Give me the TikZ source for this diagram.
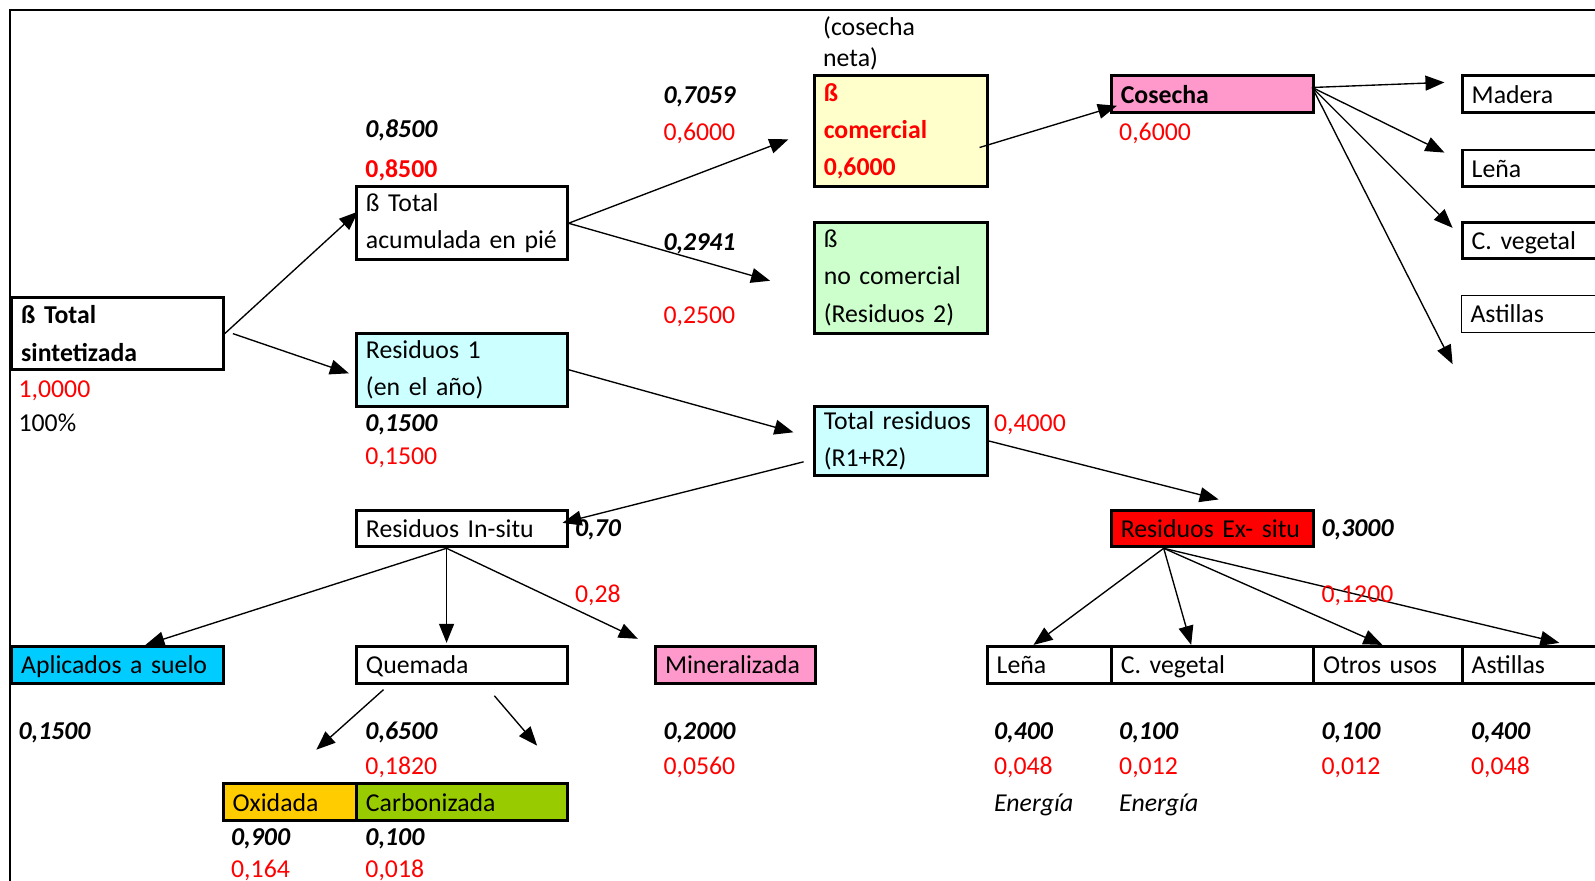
\documentclass[tikz,border=0pt]{standalone}
\usepackage{fontspec}
\setmainfont[WordSpace=0.85]{Carlito}
\usetikzlibrary{arrows.meta}

\definecolor{amarillo}{HTML}{FFFFCC}
\definecolor{verdeclaro}{HTML}{CCFFCC}
\definecolor{celeste}{HTML}{CCFFFF}
\definecolor{rosa}{HTML}{FF99CC}
\definecolor{cian}{HTML}{00CCFF}
\definecolor{naranja}{HTML}{FFCC00}
\definecolor{oliva}{HTML}{99CC00}

\newcommand{\tam}{\fontsize{19}{27.5}\selectfont}

\tikzset{
  cell/.style={draw, line width=2.2pt, rectangle, anchor=north west, inner xsep=7pt, inner ysep=0pt, align=left, font=\tam},
  fila/.style={cell, minimum height=27pt, text height=13.5pt, text depth=0pt},
  lbl/.style={anchor=west, inner sep=0pt, text height=12.5pt, text depth=0pt, font=\tam},
  num/.style={lbl, font=\tam\bfseries\itshape},
  rojo/.style={lbl, text=red},
  flecha/.style={-{Triangle[length=14pt,width=11pt]}, line width=1pt},
}

\begin{document}
\begin{tikzpicture}[x=0.75pt,y=0.75pt,yscale=-1,xscale=1]
    \useasboundingbox (0,0) rectangle (1568,866);

    % marco
    \draw[line width=1.5pt] (10,866) -- (10,10) -- (1568,10);

    % cajas
    \node[cell, text width=142pt, minimum height=53.25pt] (sint) at (10,291) {\textbf{ß Total}\\\textbf{sintetizada}};
    \node[cell, text width=141.25pt, minimum height=54pt] (acum) at (349,182) {ß Total\\acumulada en pié};
    \node[cell, fill=celeste, text width=141.25pt, minimum height=54pt] (res1) at (349,326) {Residuos 1\\(en el año)};
    \node[cell, fill=amarillo, text width=113.5pt, minimum height=81.75pt, text=red, font=\tam\bfseries] (comer) at (799,73) {ß\\comercial\\0,6000};
    \node[cell, fill=verdeclaro, text width=113.5pt, minimum height=81.75pt] (nocom) at (799,217) {ß\\no comercial\\(Residuos 2)};
    \node[fila, fill=rosa, text width=135.25pt, font=\tam\bfseries] (cosecha) at (1091,73) {Cosecha};
    \node[fila, text width=109pt] (madera) at (1436,73) {Madera};
    \node[fila, text width=109pt] (lenaA) at (1436,146) {Leña};
    \node[fila, text width=109pt] (cvegA) at (1436,217) {C. vegetal};
    \node[fila, line width=0.5pt, text width=109pt] (astA) at (1436,290) {Astillas};
    \node[cell, fill=celeste, text width=113.5pt, minimum height=51pt] (totres) at (799,398) {Total residuos\\(R1+R2)};
    \node[fila, text width=141.25pt] (insitu) at (349,500) {Residuos In-situ};
    \node[fila, fill=red, text width=135.25pt] (exsitu) at (1091,500) {Residuos Ex- situ};
    \node[fila, fill=cian, text width=142pt] (aplic) at (10,634) {Aplicados a suelo};
    \node[fila, text width=141.25pt] (quem) at (349,634) {Quemada};
    \node[fila, fill=rosa, text width=103.75pt] (miner) at (643,634) {Mineralizada};
    \node[fila, fill=naranja, text width=84.25pt] (oxid) at (218,769) {Oxidada};
    \node[fila, fill=oliva, text width=141.25pt] (carb) at (349,769) {Carbonizada};
    \node[fila, text width=77.5pt] (lenaB) at (969,634) {Leña};
    \node[fila, text width=135.25pt] (cvegB) at (1091,634) {C. vegetal};
    \node[fila, text width=95.5pt] (otros) at (1290,634) {Otros usos};
    \node[fila, text width=109pt] (astB) at (1436,634) {Astillas};

    % extremos libres de las flechas
    \coordinate (pAcum) at (352,208);
    \coordinate (sRes) at (229,328);
    \coordinate (pRes) at (343,367);
    \coordinate (pComer) at (775,137);
    \coordinate (pNocom) at (757,276);
    \coordinate (sComer) at (963,145);
    \coordinate (pCosecha) at (1098,104);
    \coordinate (sCosecha) at (1290,86);
    \coordinate (pMadera) at (1420,81);
    \coordinate (pLena) at (1420,150);
    \coordinate (pCveg) at (1428,224);
    \coordinate (pAst) at (1428,358);
    \coordinate (pTot) at (780,425);
    \coordinate (sTot) at (790,454);
    \coordinate (pIn) at (553,514);
    \coordinate (pEx) at (1198,491);
    \coordinate (sIn) at (439,539);
    \coordinate (pAplic) at (143,634);
    \coordinate (pQuem) at (439,632);
    \coordinate (pMiner) at (627,628);
    \coordinate (sQ1) at (377,678);
    \coordinate (pQ1) at (311,737);
    \coordinate (sQ2) at (486,684);
    \coordinate (pQ2) at (528,733);
    \coordinate (sEx) at (1144,539);
    \coordinate (pLenaB) at (1016,634);
    \coordinate (pCvegB) at (1171,634);
    \coordinate (pOtros) at (1359,634);
    \coordinate (pAstB) at (1533,632);

    % flechas
    \draw[flecha] (sint.east) -- (pAcum);
    \draw[flecha] (sRes) -- (pRes);
    \draw[flecha] (acum.east) -- (pComer);
    \draw[flecha] (acum.east) -- (pNocom);
    \draw[flecha] (sComer) -- (pCosecha);
    \draw[flecha] (sCosecha) -- (pMadera);
    \draw[flecha] (sCosecha) -- (pLena);
    \draw[flecha] (sCosecha) -- (pCveg);
    \draw[flecha] (sCosecha) -- (pAst);
    \draw[flecha] (res1.east) -- (pTot);
    \draw[flecha] (sTot) -- (pIn);
    \draw[flecha] (totres.east) -- (pEx);
    \draw[flecha] (sIn) -- (pAplic);
    \draw[flecha] (sIn) -- (pQuem);
    \draw[flecha] (sIn) -- (pMiner);
    \draw[flecha] (sQ1) -- (pQ1);
    \draw[flecha] (sQ2) -- (pQ2);
    \draw[flecha] (sEx) -- (pLenaB);
    \draw[flecha] (sEx) -- (pCvegB);
    \draw[flecha] (sEx) -- (pOtros);
    \draw[flecha] (sEx) -- (pAstB);

    % textos
    \node[lbl, align=left, font=\fontsize{19}{23}\selectfont, text height=, text depth=] (neta) at (809,42.5) {(cosecha\\neta)};
    \node[num] (v1) at (359,127) {0,8500};
    \node[rojo, font=\tam\bfseries] (r1) at (359,166) {0,8500};
    \node[num] (v2) at (652,93) {0,7059};
    \node[rojo] (r2) at (652,130) {0,6000};
    \node[num] (v3) at (652,238) {0,2941};
    \node[rojo] (r3) at (652,310) {0,2500};
    \node[rojo] (r4) at (1100,130) {0,6000};
    \node[rojo] (r5) at (18,382) {1,0000};
    \node[lbl] (pct) at (18,416) {100\%};
    \node[num] (v4) at (359,416) {0,1500};
    \node[rojo] (r6) at (359,448) {0,1500};
    \node[rojo] (r7) at (977,416) {0,4000};
    \node[num] (v5) at (565,519) {0,70};
    \node[num] (v6) at (1299,519) {0,3000};
    \node[rojo] (r8) at (565,584) {0,28};
    \node[rojo] (r9) at (1299,584) {0,1200};
    \node[num] (v7) at (18,719) {0,1500};
    \node[num] (v8) at (359,719) {0,6500};
    \node[num] (v9) at (652,719) {0,2000};
    \node[rojo] (r10) at (359,753) {0,1820};
    \node[rojo] (r11) at (652,753) {0,0560};
    \node[num] (v10) at (227,823) {0,900};
    \node[num] (v11) at (359,823) {0,100};
    \node[rojo] (r12) at (227,854) {0,164};
    \node[rojo] (r13) at (359,854) {0,018};
    \node[num] (v12) at (977,719) {0,400};
    \node[num] (v13) at (1100,719) {0,100};
    \node[num] (v14) at (1299,719) {0,100};
    \node[num] (v15) at (1446,719) {0,400};
    \node[rojo] (r14) at (977,753) {0,048};
    \node[rojo] (r15) at (1100,753) {0,012};
    \node[rojo] (r16) at (1299,753) {0,012};
    \node[rojo] (r17) at (1446,753) {0,048};
    \node[lbl, font=\tam\itshape] (e1) at (977,789) {Energía};
    \node[lbl, font=\tam\itshape] (e2) at (1100,789) {Energía};
\end{tikzpicture}
\end{document}
